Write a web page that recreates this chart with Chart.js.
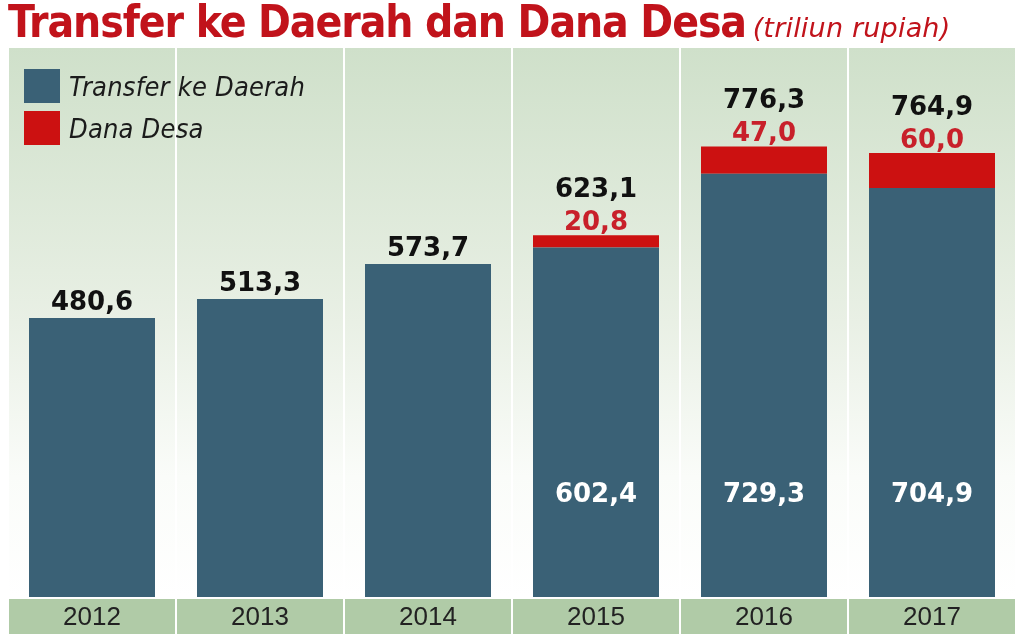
<!DOCTYPE html>
<html>
<head>
<meta charset="utf-8">
<script src="https://cdn.jsdelivr.net/npm/chart.js@4/dist/chart.umd.min.js"></script>
<style>
  html, body { margin: 0; padding: 0; background: #fff; }
  #wrap { position: relative; width: 1024px; height: 642px; overflow: hidden; }
  #title { position: absolute; left: 8px; top: -4px; margin: 0; white-space: nowrap;
    font-family: "DejaVu Sans Condensed", "DejaVu Sans", sans-serif; font-weight: bold;
    font-size: 44px; color: #c1131b; letter-spacing: -1.1px; }
  #title span { font-family: "DejaVu Sans", sans-serif; font-style: italic;
    font-weight: normal; font-size: 27px; letter-spacing: 0.2px; margin-left: -6px; }
  #legend { position: absolute; left: 24px; top: 65px; }
  .item { display: flex; align-items: center; height: 42px; }
  .box { width: 36px; height: 34px; margin-right: 9px; }
  .item span { font-family: "DejaVu Sans Condensed", "DejaVu Sans", sans-serif; font-style: italic;
    font-size: 27px; letter-spacing: 0.2px; color: #1b1b1b; }
  canvas { position: absolute; left: 0; top: 0; }
</style>
</head>
<body>
<div id="wrap">
  <canvas id="chart" width="1024" height="642"></canvas>
  <h1 id="title">Transfer ke Daerah dan Dana Desa <span>(triliun rupiah)</span></h1>
  <div id="legend">
    <div class="item"><div class="box" style="background:#3a6176"></div><span>Transfer ke Daerah</span></div>
    <div class="item"><div class="box" style="background:#cc1111"></div><span>Dana Desa</span></div>
  </div>
</div>
<script>
// data
let years = ['2012', '2013', '2014', '2015', '2016', '2017'];
let transfer = [480.6, 513.3, 573.7, 602.4, 729.3, 704.9];
let danaDesa = [null, null, null, 20.8, 47.0, 60.0];
let totals = [480.6, 513.3, 573.7, 623.1, 776.3, 764.9];

let blue = '#3a6176';
let red = '#cc1111';

function fmt(v) {
    return v.toFixed(1).replace('.', ',');
}

// column backgrounds + green band under the years
let panels = {
    id: 'panels',
    beforeDraw(chart) {
        let c = chart.ctx;
        let a = chart.chartArea;
        let x = chart.scales.x;
        let w = (a.right - a.left) / years.length;
        let g = c.createLinearGradient(0, a.top, 0, a.bottom);
        g.addColorStop(0, '#cfe0ca');
        g.addColorStop(0.5, '#e9f0e5');
        g.addColorStop(0.78, '#fafcf9');
        g.addColorStop(1, '#ffffff');
        c.save();
        c.fillStyle = g;
        c.fillRect(a.left, a.top, a.right - a.left, a.bottom - a.top);
        c.fillStyle = '#b0cba7';
        years.forEach((y, i) => {
            let cx = x.getPixelForValue(i);
            c.fillRect(cx - w / 2 + 1, a.bottom + 2, w - 2, 35);
        });
        c.restore();
    }
};

// value labels
let labels = {
    id: 'labels',
    afterDatasetsDraw(chart) {
        let c = chart.ctx;
        let m0 = chart.getDatasetMeta(0);
        let m1 = chart.getDatasetMeta(1);
        c.save();
        c.textAlign = 'center';
        c.textBaseline = 'alphabetic';
        c.font = 'bold 26px "DejaVu Sans"';
        years.forEach((y, i) => {
            let b0 = m0.data[i];
            let x = b0.x;
            if (danaDesa[i] != null) {
                let b1 = m1.data[i];
                c.fillStyle = '#c8202a';
                c.fillText(fmt(danaDesa[i]), x, b1.y - 5);
                c.fillStyle = '#111';
                c.fillText(fmt(totals[i]), x, b1.y - 38);
                c.fillStyle = '#fff';
                c.fillText(fmt(transfer[i]), x, b0.base - 95);
            } else {
                c.fillStyle = '#111';
                c.fillText(fmt(totals[i]), x, b0.y - 8);
            }
        });
        c.restore();
    }
};

new Chart(document.getElementById('chart'), {
    type: 'bar',
    data: {
        labels: years,
        datasets: [
            { label: 'Transfer ke Daerah', data: transfer, backgroundColor: blue, stack: 's' },
            { label: 'Dana Desa', data: danaDesa, backgroundColor: red, stack: 's' }
        ]
    },
    options: {
        responsive: false,
        animation: false,
        categoryPercentage: 0.75,
        barPercentage: 1,
        layout: { padding: { left: 8, right: 8, top: 48, bottom: 3 } },
        plugins: { legend: { display: false }, tooltip: { enabled: false } },
        scales: {
            x: {
                stacked: true,
                grid: { offset: true, color: '#ffffff', lineWidth: 2, drawTicks: false },
                border: { display: false },
                ticks: { color: '#222', font: { family: 'Liberation Sans', size: 26, lineHeight: 1 }, padding: 8 }
            },
            y: {
                stacked: true,
                display: false,
                min: 0,
                max: 946
            }
        }
    },
    plugins: [panels, labels]
});
</script>
</body>
</html>
